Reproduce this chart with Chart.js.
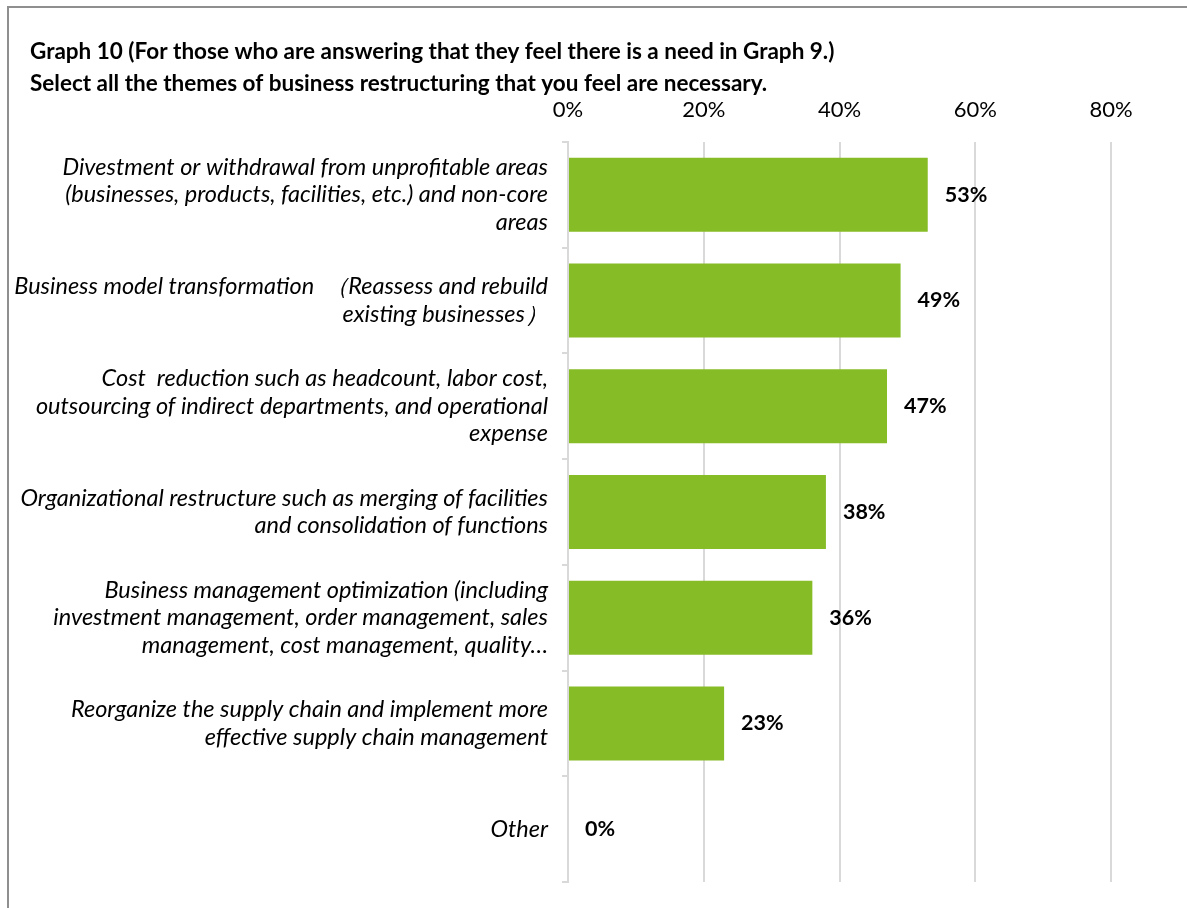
<!DOCTYPE html>
<html>
<head>
<meta charset="utf-8">
<script src="https://cdn.jsdelivr.net/npm/chart.js@4.4.1/dist/chart.umd.min.js"></script>
<style>
  html, body { margin: 0; padding: 0; background: #fff; overflow: hidden; }
  #wrap { position: relative; width: 1187px; height: 908px; }
  #frame { position: absolute; left: 7px; top: 6px; width: 1200px; height: 920px;
           border-top: 2px solid #8f8f8f; border-left: 2px solid #8f8f8f; pointer-events: none; }
  canvas { position: absolute; left: 0; top: 0; }
</style>
</head>
<body>
<div id="wrap">
  <canvas id="chart" width="1187" height="908"></canvas>
  <div id="frame"></div>
</div>
<script>
// Survey themes (multi-line labels) and share of respondents selecting each
const categories = [
  ["Divestment or withdrawal from unprofitable areas", "(businesses, products, facilities, etc.) and non-core", "areas"],
  ["Business model transformation  \uFF08Reassess and rebuild", "existing businesses\uFF09"],
  ["Cost  reduction such as headcount, labor cost,", "outsourcing of indirect departments, and operational", "expense"],
  ["Organizational restructure such as merging of facilities", "and consolidation of functions"],
  ["Business management optimization (including", "investment management, order management, sales", "management, cost management, quality\u2026"],
  ["Reorganize the supply chain and implement more", "effective supply chain management"],
  ["Other"]
];
const values = [53, 49, 47, 38, 36, 23, 0];
const axisTicks = [0, 20, 40, 60, 80];
const titleLines = [
  "Graph 10 (For those who are answering that they feel there is a need in Graph 9.)",
  "Select all the themes of business restructuring that you feel are necessary."
];

const FONT = "Lato, 'Open Sans', sans-serif";
const GREEN = "#86bc25";
const GRID = "#d9d9d9";

// Draws the percentage next to the end of each bar
const valueLabels = {
  id: "valueLabels",
  afterDatasetsDraw(chart) {
    const ctx = chart.ctx;
    const meta = chart.getDatasetMeta(0);
    ctx.save();
    ctx.font = "bold 21.5px " + FONT;
    ctx.fillStyle = "#000";
    ctx.textAlign = "left";
    ctx.textBaseline = "middle";
    meta.data.forEach((bar, i) => {
      ctx.fillText(values[i] + "%", bar.x + 17, bar.y);
    });
    ctx.restore();
  }
};

// Long category labels run past the left padding; let the y-axis label
// clip region start at the canvas edge so they are not cut off
const wideLabelArea = {
  id: "wideLabelArea",
  afterLayout(chart) { chart.scales.y.left = 0; }
};

new Chart(document.getElementById("chart"), {
  type: "bar",
  data: {
    labels: categories,
    datasets: [{
      data: values,
      backgroundColor: GREEN,
      borderWidth: 0,
      barPercentage: 0.7,
      categoryPercentage: 1.0
    }]
  },
  options: {
    indexAxis: "y",
    responsive: false,
    animation: false,
    layout: { padding: { left: 30, right: 76, top: 0, bottom: 26 } },
    plugins: {
      legend: { display: false },
      tooltip: { enabled: false },
      title: {
        display: true,
        text: titleLines,
        align: "start",
        color: "#000",
        font: { family: FONT, size: 22.5, weight: "bold", lineHeight: 1.42 },
        padding: { top: 36, bottom: 0 }
      }
    },
    scales: {
      x: {
        position: "top",
        min: 0,
        max: 80,
        afterBuildTicks(scale) { scale.ticks = axisTicks.map(v => ({ value: v })); },
        afterFit(scale) { scale.height = 42; scale.paddingLeft = 0; scale.paddingRight = 0; },
        ticks: {
          callback: v => v + "%",
          color: "#000",
          font: { family: FONT, size: 22 },
          padding: 19
        },
        grid: { color: GRID, lineWidth: 2, drawTicks: false },
        border: { display: false }
      },
      y: {
        afterFit(scale) { scale.width = 538; scale.paddingTop = 0; scale.paddingBottom = 0; },
        ticks: {
          color: "#000",
          font: { family: FONT, size: 23.5, style: "italic", lineHeight: 1.17 },
          padding: 14
        },
        grid: { drawOnChartArea: false, drawTicks: true, tickLength: 6, color: GRID, lineWidth: 2 },
        border: { display: true, color: GRID, width: 2 }
      }
    }
  },
  plugins: [valueLabels, wideLabelArea]
});
</script>
</body>
</html>
